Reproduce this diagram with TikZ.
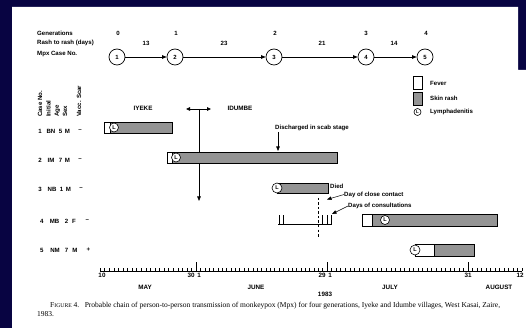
\documentclass[tikz,border=0pt]{standalone}
\usepackage{fontspec}
\setmainfont{Liberation Serif}
\setsansfont{Liberation Sans}
\usetikzlibrary{arrows.meta}
\definecolor{navy}{RGB}{8,4,66}
\begin{document}
\begin{tikzpicture}[x=1pt,y=-1pt,
  lab/.style={font=\fontsize{6.1}{7}\sffamily\bfseries, inner sep=0pt},
  labw/.style={lab, anchor=west},
  hdr/.style={lab, rotate=90, anchor=west},
  bold/.style={font=\fontsize{6.3}{7}\sffamily\bfseries, inner sep=0pt},
  caseno/.style={circle, draw, line width=0.7pt, minimum size=16pt, inner sep=0pt, font=\fontsize{6}{7}\sffamily\bfseries},
  arr/.style={-{Triangle[length=4.5pt,width=3.5pt]}, line width=0.6pt},
  darr/.style={{Triangle[length=4pt,width=3.5pt]}-{Triangle[length=4pt,width=3.5pt]}, line width=0.8pt},
  rash/.style={fill=black!42, draw=black, line width=0.5pt},
  fever/.style={fill=white, draw=black, line width=0.5pt},
  lymph/.style={circle, draw, fill=white, line width=0.6pt, minimum size=9pt, inner sep=0pt, font=\fontsize{5.5}{6}\sffamily\bfseries},
  tick/.style={line width=0.35pt},
]
\useasboundingbox (0,0) rectangle (526,328);
\fill[navy] (0,0) rectangle (526,328);
\fill[white] (12,7) -- (518,7) -- (518,70) -- (526,70) -- (526,328) -- (12,328) -- cycle;

% top rows
\node[labw] (tgen) at (37,33) {Generations};
\node[labw] (trash) at (37,43) {Rash to rash (days)};
\node[labw] (tmpx) at (37,54) {Mpx Case No.};
\foreach \n/\x in {0/118,1/176,2/275,3/366,4/426} \node[lab] (g\n) at (\x,33) {\n};
\foreach \n/\x in {13/146,23/224,21/322,14/394} \node[lab] (r\n) at (\x,43) {\n};
\node[caseno] (c1) at (117,57) {1};
\node[caseno] (c2) at (175,57) {2};
\node[caseno] (c3) at (274,57) {3};
\node[caseno] (c4) at (366,57) {4};
\node[caseno] (c5) at (425,57) {5};
\draw[arr] (c1) -- (c2);
\draw[arr] (c2) -- (c3);
\draw[arr] (c3) -- (c4);
\draw[arr] (c4) -- (c5);

% legend
\draw[fever] (413,76) rectangle (422,89);
\draw[rash] (413,92) rectangle (422,105);
\node[lymph, minimum size=7pt, font=\fontsize{4.5}{5}\sffamily\bfseries] (leglymph) at (417.5,112) {L};
\node[labw] (lfever) at (430,83) {Fever};
\node[labw] (lrash) at (430,98) {Skin rash};
\node[labw] (llymph) at (430,112) {Lymphadenitis};

% column headers
\node[hdr] (hcase) at (40,117) {Case No.};
\node[hdr] (hinit) at (48.5,117) {Initial};
\node[hdr] (hage) at (57.5,117) {Age};
\node[hdr] (hsex) at (65,117) {Sex};
\node[hdr] (hvac) at (79,117) {Vacc. Scar};

% rows
\foreach \r/\a/\b/\c/\d/\e/\y/\xa/\xb/\xc/\xd/\xe in {
  1/1/BN/5/M/--/131/40/51/60.5/67.3/80,
  2/2/IM/7/M/--/160/40/51/60.5/67.5/80,
  3/3/NB/1/M/--/189/40/52/61.5/68.3/81,
  4/4/MB/2/F/--/221/41.7/54.5/66.5/74/87.3,
  5/5/NM/7/M/+/250/41.7/55/66.5/75/88.3}{
  \node[lab] (rc\r) at (\xa,\y) {\a};
  \node[lab] (ri\r) at (\xb,\y) {\b};
  \node[lab] (ra\r) at (\xc,\y) {\c};
  \node[lab] (rs\r) at (\xd,\y) {\d};
  \node[lab] (rv\r) at (\xe,\y) {\e};
}

% villages
\node[bold] (iyeke) at (143,108) {IYEKE};
\node[bold] (idumbe) at (240,108) {IDUMBE};
\coordinate (dl) at (186,109);
\coordinate (dr) at (211,109);
\coordinate (vtop) at (199,109);
\coordinate (vbot) at (199,201);
\draw[darr] (dl) -- (dr);
\draw[arr, line width=0.8pt] (vtop) -- (vbot);

% bars
% case 1
\draw[rash] (104,122) rectangle (172,133);
\draw[fever] (104,122) rectangle (110,133);
\node[lymph] (l1) at (114,127.5) {L};
% case 2
\draw[rash] (167,152) rectangle (337,163);
\draw[fever] (167,152) rectangle (172,163);
\node[lymph] (l2) at (176,157.5) {L};
% case 3
\draw[rash] (277,183) rectangle (328,193);
\node[lymph, minimum size=10pt] (l3) at (277,188) {L};
\node[labw] (died) at (330,186) {Died};
% case 4
\draw[rash] (362,214) rectangle (497,226);
\draw[fever] (362,214) rectangle (372,226);
\node[lymph] (l4) at (385,220) {L};
% case 5
\draw[rash] (415,244) rectangle (474,256);
\draw[fever] (415,244) rectangle (434,256);
\node[lymph, minimum size=10pt] (l5) at (415,250) {L};

% annotations
\node[labw] (disch) at (275,128) {Discharged in scab stage};
\coordinate (dtop) at (278,132);
\coordinate (dbot) at (278,151);
\draw[arr] (dtop) -- (dbot);

\node[labw] (close) at (344,194.5) {Day of close contact};
\coordinate (closetip) at (327,199.5);
\draw[arr, line width=0.5pt] (close.west) -- (closetip);
\coordinate (dash1) at (318,198);
\coordinate (dash2) at (318,238);
\draw[dashed, line width=0.6pt, dash pattern=on 2.5pt off 2pt] (dash1) -- (dash2);

\node[labw] (consult) at (348,206) {Days of consultations};
\coordinate (constip) at (332,214);
\draw[arr, line width=0.5pt] (consult.west) -- (constip);
\draw[line width=0.5pt] (278,224) -- (332,224);
\foreach \x in {279,283,322,327,331} \draw[line width=0.5pt] (\x,224) -- (\x,215);

% axis
\draw[line width=0.4pt] (100,271) -- (522,271);
\foreach \i in {0,...,21} \draw[tick] ({100+\i*96/21},271) -- ++(0,-3);
\foreach \i in {0,...,30} \draw[tick] ({196+\i*131/30},271) -- ++(0,-3);
\foreach \i in {0,...,31} \draw[tick] ({327+\i*141/31},271) -- ++(0,-3);
\foreach \i in {0,...,12} \draw[tick] ({468+\i*54/12},271) -- ++(0,-3);
\foreach \x in {196,327,468} \draw[tick] (\x,271) -- (\x,262);
\node[bold] (d10) at (102,275) {10};
\node[bold] (d30) at (191,275) {30};
\node[bold] (d1a) at (199,275) {1};
\node[bold] (d29) at (322,275) {29};
\node[bold] (d1b) at (330,275) {1};
\node[bold] (d31) at (468,275) {31};
\node[bold] (d12) at (520,275) {12};
\node[bold] (may) at (145,287) {MAY};
\node[bold] (june) at (256,287) {JUNE};
\node[bold] (july) at (390,287) {JULY};
\node[bold] (aug) at (499,287) {AUGUST};
\node[bold] (yr) at (325,294) {1983};

% caption
\node[anchor=west, inner sep=0pt, font=\fontsize{7.5}{8}\selectfont] (cap1) at (50,306) {F{\fontsize{5.7}{6}\selectfont IGURE} 4.\hspace{3pt} Probable chain of person-to-person transmission of monkeypox (Mpx) for four generations, Iyeke and Idumbe villages, West Kasai, Zaire,};
\node[anchor=west, inner sep=0pt, font=\fontsize{7.5}{8}\selectfont] (cap2) at (37,314.5) {1983.};
\end{tikzpicture}
\end{document}
